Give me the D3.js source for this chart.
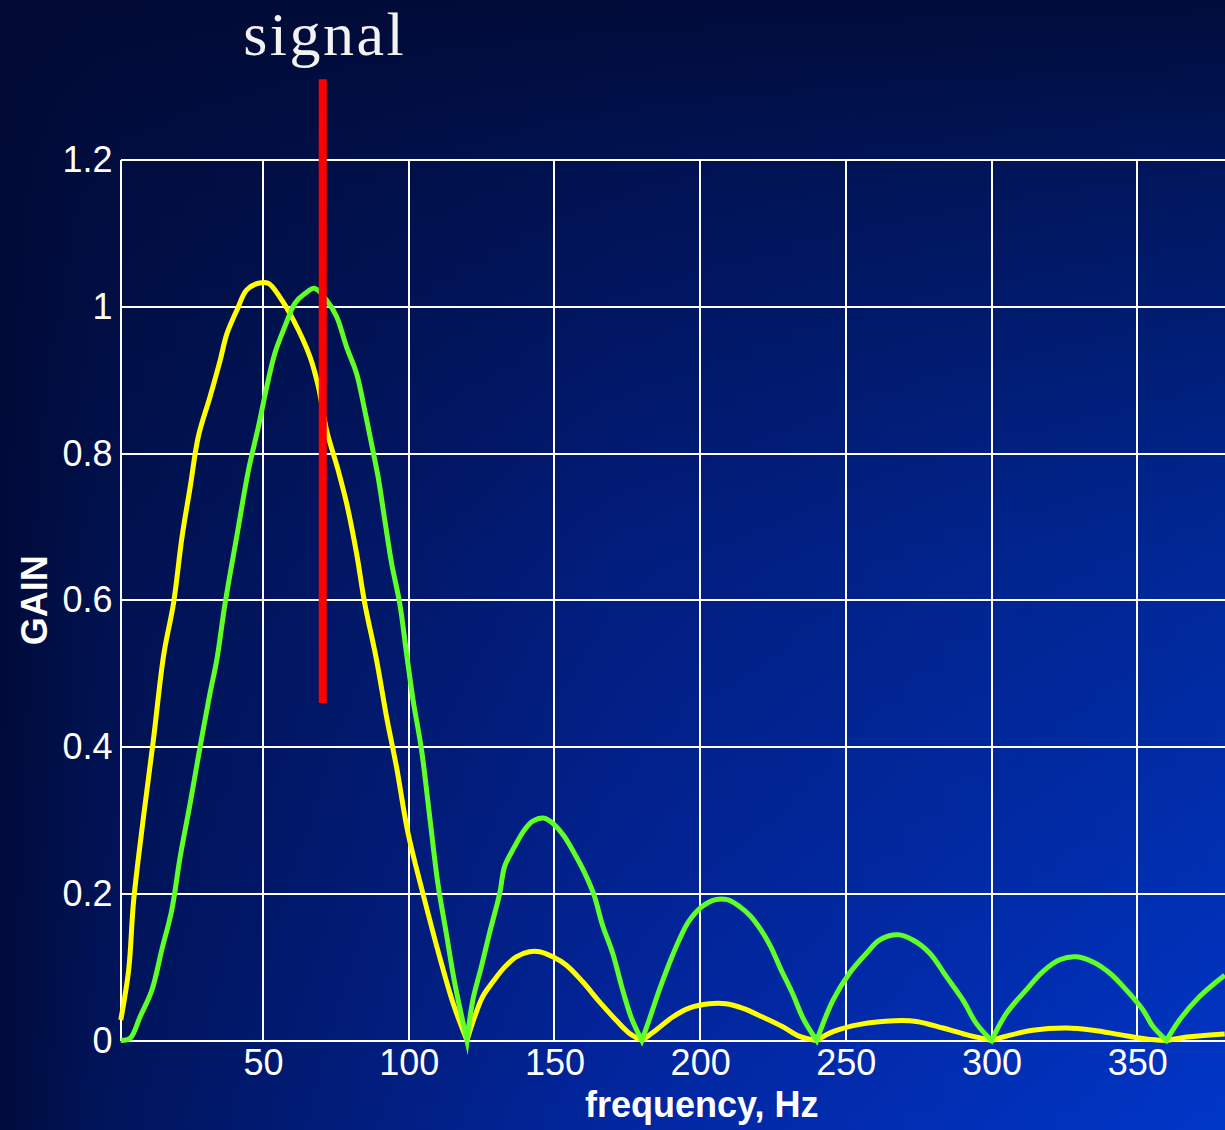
<!DOCTYPE html>
<html>
<head>
<meta charset="utf-8">
<script src="https://cdn.jsdelivr.net/npm/d3@7"></script>
<style>
  html, body { margin: 0; padding: 0; background: #000c3a; overflow: hidden; }
  svg { display: block; }
</style>
</head>
<body>
<svg id="chart" width="1225" height="1130"></svg>
<script>
// Axis ticks
const xTicks = [50, 100, 150, 200, 250, 300, 350];
const xTickLabels = ["50", "100", "150", "200", "250", "300", "350"];
const xGridExtra = [400];
const yTicks = [0, 0.2, 0.4, 0.6, 0.8, 1, 1.2];
const yTickLabels = ["0", "0.2", "0.4", "0.6", "0.8", "1", "1.2"];

// Gain response of the first filter: [frequency Hz, gain]
const yellowResponse = [
  [1.2, 0.028], [3.9, 0.096], [5.6, 0.19], [9.0, 0.305], [12.4, 0.41], [15.9, 0.525],
  [19.3, 0.596], [22.2, 0.686], [25.0, 0.754], [27.8, 0.823], [31.8, 0.877], [35.3, 0.927],
  [37.6, 0.963], [41.0, 0.995], [44.4, 1.023], [48.4, 1.032], [51.8, 1.032], [55.8, 1.013],
  [60.4, 0.982], [66.1, 0.932], [69.0, 0.891], [71.8, 0.832], [75.8, 0.777], [78.7, 0.732],
  [82.1, 0.664], [84.9, 0.596], [88.9, 0.52], [92.4, 0.441], [95.8, 0.373], [99.8, 0.282],
  [104.9, 0.2], [110.6, 0.114], [115.2, 0.051], [120, 0],
  [122.6, 0.032], [125.4, 0.06], [128.9, 0.08], [132.9, 0.1], [136.9, 0.114], [141.4, 0.121],
  [144.9, 0.121], [149.4, 0.114], [154.0, 0.103], [159.7, 0.08], [165.4, 0.053], [171.1, 0.028],
  [175.7, 0.01], [180, 0],
  [184.8, 0.014], [190.6, 0.032], [196.2, 0.044], [203.1, 0.05], [208.8, 0.05], [214.5, 0.044],
  [221.4, 0.032], [228.2, 0.019], [233.9, 0.006], [240, 0],
  [245.6, 0.012], [254.8, 0.022], [266.8, 0.027], [274.2, 0.026], [283.3, 0.017], [291.3, 0.008], [300, 0],
  [305.1, 0.006], [314.2, 0.014], [325.7, 0.017], [334.8, 0.014], [344.0, 0.008], [353.1, 0.002], [360, 0],
  [368, 0.005], [380, 0.009]
];

// Gain response of the second filter: [frequency Hz, gain]
const greenResponse = [
  [1.2, 0], [4.4, 0.003], [7.9, 0.033], [11.9, 0.069], [15.3, 0.124], [18.7, 0.178],
  [21.6, 0.251], [25.0, 0.323], [28.4, 0.4], [31.8, 0.473], [34.2, 0.52], [37.0, 0.596],
  [41.0, 0.687], [45.0, 0.777], [48.4, 0.836], [51.3, 0.891], [54.1, 0.937], [57.5, 0.973],
  [61.0, 1.005], [64.4, 1.018], [67.8, 1.025], [71.8, 1.009], [75.2, 0.987], [78.7, 0.945],
  [82.1, 0.909], [84.9, 0.859], [87.2, 0.814], [89.5, 0.768], [91.8, 0.709], [94.1, 0.651],
  [96.9, 0.596], [99.5, 0.52], [101.5, 0.464], [104.4, 0.396], [107.2, 0.305], [110.0, 0.214],
  [112.9, 0.146], [115.8, 0.078], [120, 0],
  [122.0, 0.055], [124.9, 0.1], [127.7, 0.146], [131.2, 0.2], [132.9, 0.237], [136.3, 0.264],
  [139.7, 0.287], [142.6, 0.299], [146.6, 0.303], [150.0, 0.294], [153.4, 0.278], [157.4, 0.251],
  [160.9, 0.224], [163.7, 0.197], [166.6, 0.156], [170.0, 0.119], [173.4, 0.069], [176.3, 0.032], [180, 0],
  [182.5, 0.028], [186.0, 0.069], [189.4, 0.105], [192.8, 0.137], [196.2, 0.163], [200.8, 0.183],
  [205.3, 0.192], [209.3, 0.192], [213.4, 0.183], [217.4, 0.169], [220.8, 0.151], [224.2, 0.128],
  [227.7, 0.097], [231.6, 0.065], [235.6, 0.028], [240, 0],
  [245.6, 0.055], [251.3, 0.092], [257.1, 0.119], [261.6, 0.137], [267.9, 0.144], [273.0, 0.137],
  [278.8, 0.119], [284.5, 0.087], [290.2, 0.055], [294.8, 0.023], [300, 0],
  [305.1, 0.037], [311.9, 0.069], [317.6, 0.094], [323.4, 0.11], [329.1, 0.114], [334.8, 0.107],
  [340.5, 0.092], [346.2, 0.069], [351.9, 0.042], [355.4, 0.019], [360, 0],
  [364.5, 0.028], [371.4, 0.06], [380, 0.089]
];

// Signal marker: frequency and vertical extent in gain units
const signalFreq = 70.5;
const signalSpan = [0.46, 1.31];
const signalLabel = "signal";

const W = 1225, H = 1130;
const plot = { left: 120.5, right: 1283, top: 160, bottom: 1040.5 };

const svg = d3.select("#chart");
const defs = svg.append("defs");

// Background: dark navy top/left fading to bright blue bottom/right
const gx = defs.append("linearGradient").attr("id", "bgX")
  .attr("x1", 0).attr("y1", 0).attr("x2", 1).attr("y2", 0);
gx.append("stop").attr("offset", 0).attr("stop-color", "#000b3c");
gx.append("stop").attr("offset", 0.08).attr("stop-color", "#00145a");
gx.append("stop").attr("offset", 0.5).attr("stop-color", "#0226a0");
gx.append("stop").attr("offset", 1).attr("stop-color", "#0036c8");

const gy = defs.append("linearGradient").attr("id", "bgY")
  .attr("x1", 0).attr("y1", 0).attr("x2", 0).attr("y2", 1);
gy.append("stop").attr("offset", 0).attr("stop-color", "#000a33").attr("stop-opacity", 0.95);
gy.append("stop").attr("offset", 0.15).attr("stop-color", "#000a33").attr("stop-opacity", 0.72);
gy.append("stop").attr("offset", 0.5).attr("stop-color", "#000a33").attr("stop-opacity", 0.32);
gy.append("stop").attr("offset", 1).attr("stop-color", "#000a33").attr("stop-opacity", 0);

svg.append("rect").attr("width", W).attr("height", H).attr("fill", "url(#bgX)");
svg.append("rect").attr("width", W).attr("height", H).attr("fill", "url(#bgY)");

// Scales
const x = d3.scaleLinear().domain([1.1, 400]).range([plot.left, plot.right]);
const y = d3.scaleLinear().domain([0, 1.2]).range([plot.bottom, plot.top]);

// Grid
const grid = svg.append("g").attr("stroke", "#ffffff").attr("stroke-width", 2).attr("shape-rendering", "crispEdges");
grid.selectAll("line.v").data(xTicks.concat(xGridExtra)).join("line").attr("class", "v")
  .attr("x1", d => x(d)).attr("x2", d => x(d))
  .attr("y1", y(0)).attr("y2", y(1.2));
grid.selectAll("line.h").data(yTicks).join("line").attr("class", "h")
  .attr("x1", x.range()[0]).attr("x2", x.range()[1])
  .attr("y1", d => y(d)).attr("y2", d => y(d));
grid.append("line")
  .attr("x1", x.range()[0]).attr("x2", x.range()[0])
  .attr("y1", y(0)).attr("y2", y(1.2));

// Axes (labels only; lines come from the grid)
const tickFont = "'Liberation Sans', Arial, sans-serif";
const yAxis = svg.append("g").attr("transform", `translate(${plot.left},0)`)
  .call(d3.axisLeft(y).tickValues(yTicks).tickFormat((d, i) => yTickLabels[i]).tickSize(0).tickPadding(8));
const xAxis = svg.append("g").attr("transform", `translate(0,${plot.bottom})`)
  .call(d3.axisBottom(x).tickValues(xTicks).tickFormat((d, i) => xTickLabels[i]).tickSize(0).tickPadding(8.5));
[xAxis, yAxis].forEach(g => {
  g.select(".domain").remove();
  g.selectAll("text").attr("fill", "#ffffff").style("font-family", tickFont).style("font-size", "36px");
});

// Axis titles
svg.append("text")
  .attr("x", (x.range()[0] + x.range()[1]) / 2).attr("y", 1117)
  .attr("text-anchor", "middle").attr("fill", "#ffffff")
  .style("font-family", tickFont).style("font-size", "36px").style("font-weight", "bold")
  .text("frequency, Hz");
svg.append("text")
  .attr("transform", `translate(46.5,${(plot.top + plot.bottom) / 2}) rotate(-90)`)
  .attr("text-anchor", "middle").attr("fill", "#ffffff")
  .style("font-family", tickFont).style("font-size", "36px").style("font-weight", "bold")
  .text("GAIN");

// Response curves: each lobe between nulls is smoothed on its own so the
// nulls stay as sharp notches, then the lobes are joined into one path.
const lobeLine = d3.line().x(d => x(d[0])).y(d => y(d[1])).curve(d3.curveCatmullRom.alpha(0.5));
function responsePath(data) {
  const lobes = [];
  let cur = [data[0]];
  for (let i = 1; i < data.length; i++) {
    cur.push(data[i]);
    if (data[i][1] === 0 && i < data.length - 1) {
      lobes.push(cur);
      cur = [data[i]];
    }
  }
  if (cur.length > 1) lobes.push(cur);
  return lobes.map((lobe, i) => {
    const d = lobeLine(lobe);
    return i === 0 ? d : d.replace(/^M[^A-Za-z]*/, "");
  }).join("");
}

svg.append("path").attr("d", responsePath(yellowResponse))
  .attr("fill", "none").attr("stroke", "#ffff00").attr("stroke-width", 5)
  .attr("stroke-linejoin", "miter").attr("stroke-miterlimit", 10);
svg.append("path").attr("d", responsePath(greenResponse))
  .attr("fill", "none").attr("stroke", "#5fff2a").attr("stroke-width", 5)
  .attr("stroke-linejoin", "miter").attr("stroke-miterlimit", 10);

// Signal marker
svg.append("line")
  .attr("x1", x(signalFreq)).attr("x2", x(signalFreq))
  .attr("y1", y(signalSpan[1])).attr("y2", y(signalSpan[0]))
  .attr("stroke", "#ff0000").attr("stroke-width", 8);
svg.append("text")
  .attr("x", x(signalFreq) + 2).attr("y", 55)
  .attr("text-anchor", "middle").attr("fill", "#f2f2f2")
  .style("font-family", "'Liberation Serif', 'Times New Roman', serif")
  .style("font-size", "62px").style("letter-spacing", "2.5px")
  .text(signalLabel);
</script>
</body>
</html>
